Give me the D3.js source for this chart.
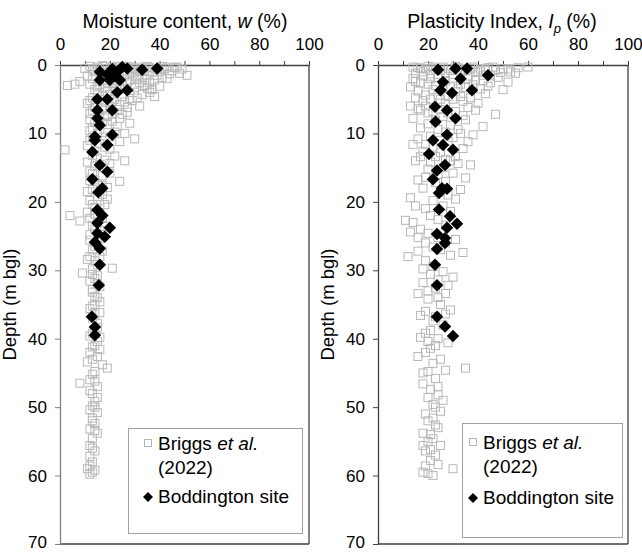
<!DOCTYPE html>
<html>
<head>
<meta charset="utf-8">
<script src="https://cdn.jsdelivr.net/npm/d3@7"></script>
<style>
  body { margin: 0; background: #fff; }
  text { font-family: "Liberation Sans", Arial, sans-serif; fill: #000; }
</style>
</head>
<body>
<div id="chart"></div>
<script>
// ---- data: [value, depth (m bgl)] ----
const briggsW = [
  [12,0.2],[15,0.3],[18,0.2],[21,0.4],[24,0.3],[27,0.2],[30,0.5],[33,0.3],[36,0.4],[39,0.6],
  [42,0.5],[45,0.8],[48,1.2],[51,1.5],[44,1.3],[41,1.8],[38,2.2],[35,1.5],[32,1.0],[29,1.2],
  [26,1.6],[23,1.1],[20,0.9],[17,1.4],[14,1.0],[11,1.6],[8,2.4],[3,3.0],[6,2.8],[12,2.8],
  [15,3.2],[19,2.6],[25,2.9],[30,3.3],[34,3.0],[37,3.6],[40,3.1],[38,4.6],[33,4.3],[28,4.0],
  [22,3.8],[17,4.4],[13,4.8],[11,5.6],[14,6.2],[18,5.5],[24,5.8],[29,5.2],[32,6.0],[27,6.9],
  [21,7.2],[16,7.6],[12,8.0],[13,9.2],[19,8.7],[23,9.0],[28,8.5],[15,10.0],[20,10.5],[30,10.8],
  [2,12.4],[11,11.8],[14,12.6],[18,12.0],[22,13.3],[26,14.0],[16,14.5],[12,15.5],[20,15.8],[14,16.8],
  [17,17.6],[24,17.0],[11,18.5],[15,19.2],[19,19.6],[13,20.4],[16,21.0],[4,22.0],[8,22.8],[12,22.4],
  [15,23.0],[18,23.6],[12,24.8],[16,25.4],[14,26.5],[17,27.2],[12,28.0],[14,28.6],[9,30.4],[13,29.8],
  [21,29.7],[15,30.8],[12,31.6],[16,32.4],[13,33.2],[15,34.0],[14,35.0],[12,35.6],[16,36.2],[13,37.0],
  [15,37.8],[14,38.8],[12,39.6],[15,40.4],[13,41.2],[12,42.0],[15,42.6],[11,43.4],[19,44.3],[14,44.8],
  [8,46.5],[12,46.0],[15,47.0],[13,48.0],[14,49.2],[12,50.4],[15,50.8],[13,51.6],[14,52.4],[12,53.2],
  [15,53.8],[13,54.6],[12,55.6],[14,56.4],[12,57.2],[13,58.0],[11,59.0],[13,59.5],[12,59.8],
  [10,0.5],[13,0.6],[16,0.8],[19,0.5],[22,0.7],[25,0.9],[28,0.7],[31,0.9],[34,0.8],[37,1.0],
  [40,0.9],[43,0.3],[46,0.4],[49,0.6],[20,1.8],[24,2.0],[28,2.2],[31,1.9],[34,2.1],[36,2.6],
  [13,2.0],[17,2.3],[21,2.7],[27,2.5],[32,2.6],[14,3.6],[18,3.4],[23,3.2],[26,3.5],[36,4.0],
  [31,4.8],[25,4.6],[20,4.3],[15,4.1],[12,5.2],[16,5.0],[21,5.3],[26,5.4],[13,6.6],[17,6.4],
  [20,6.0],[23,6.5],[27,6.2],[12,7.1],[15,6.9],[19,7.4],[24,7.8],[14,8.3],[17,8.4],[21,8.2],
  [12,9.6],[16,9.4],[22,9.8],[26,10.0],[13,10.6],[18,11.0],[24,11.2],[12,11.0],[16,11.5],[20,12.3],
  [13,13.2],[15,13.6],[18,13.9],[11,14.2],[14,14.8],[20,14.4],[13,15.9],[17,16.2],[12,16.9],[15,17.4],
  [19,17.9],[13,18.2],[17,18.9],[12,19.8],[14,20.8],[18,20.4],[11,21.5],[14,21.8],[17,22.3],[13,23.4],
  [16,24.2],[14,24.0],[12,25.6],[15,26.0],[13,27.0],[16,28.0],[11,28.4],[15,29.2],[13,30.6],[14,31.2],
  [15,32.0],[13,32.8],[14,33.8],[16,34.6],[13,35.2],[14,36.4],[15,38.4],[13,39.2],[16,39.8],[14,41.0],
  [16,41.6],[13,43.0],[17,43.8],[13,45.2],[14,46.2],[12,47.6],[15,48.6],[13,49.8],[14,50.0],[13,52.0],
  [14,53.4],[13,56.0],[12,58.6],[14,59.2],
  [17,0.1],[23,0.2],[29,0.3],[35,0.2],[41,0.2],[47,0.3],[33,1.6],[27,1.4],[22,2.3],[39,1.5],
  [43,2.0],[30,2.8],[24,3.4],[35,3.4],[19,3.9],[16,2.9],[28,4.9],[22,5.0],[18,6.6],[25,7.2]
];
const boddW = [
  [39,0.5],[33,0.7],[27,0.5],[25,0.3],[23,1.0],[21,0.6],[16,1.0],[19,1.4],[16,2.2],[20,2.2],
  [24,2.2],[22,1.6],[27,3.7],[23,4.0],[15,5.0],[19,5.0],[21,6.6],[15,6.6],[16,8.8],[15,7.8],
  [21,10.2],[14,10.5],[14,11.0],[19,11.7],[13,12.7],[16,14.6],[19,15.6],[13,16.7],[17,18.0],[15.4,18.6],
  [15,21.2],[17,22.0],[15,23.1],[20,23.8],[15,24.6],[18,25.1],[14,25.9],[16,26.8],[16,29.2],[15.6,32.2],
  [12.8,36.8],[14,38.3],[14,39.5]
];
const briggsIp = [
  [14,0.3],[17,0.5],[20,0.2],[23,0.6],[26,0.3],[29,0.8],[32,0.4],[35,0.7],[38,0.3],[41,0.6],
  [44,0.4],[47,0.8],[50,0.5],[53,1.0],[56,0.4],[60,0.3],[52,2.5],[48,1.8],[45,2.6],[42,1.5],
  [39,2.2],[36,1.6],[33,2.8],[30,1.9],[27,2.3],[24,1.4],[21,2.0],[18,1.6],[15,2.4],[13,3.2],
  [16,3.8],[19,4.4],[22,3.6],[25,5.0],[28,4.6],[31,3.9],[34,5.3],[37,4.8],[40,5.6],[43,4.2],
  [47,7.2],[14,7.8],[17,6.6],[20,7.0],[23,8.2],[26,7.5],[29,8.8],[32,9.4],[35,8.0],[38,10.2],
  [42,9.0],[16,10.8],[19,11.6],[22,12.0],[25,12.8],[28,11.2],[31,13.4],[34,12.2],[37,14.6],[15,14.0],
  [20,15.2],[24,16.0],[27,17.0],[30,15.8],[33,18.2],[18,18.0],[13,19.4],[22,19.8],[26,20.6],[29,21.4],
  [35,16.5],[11,22.7],[14,23.0],[17,24.0],[20,24.6],[24,25.2],[27,26.0],[31,25.5],[34,27.4],[16,27.2],
  [12,28.0],[19,28.6],[22,29.4],[26,30.2],[30,31.0],[18,31.8],[23,32.6],[27,33.4],[20,34.2],[25,35.0],
  [29,35.8],[17,36.6],[22,37.4],[26,38.0],[19,39.2],[24,40.0],[28,40.6],[21,41.4],[16,42.6],[25,43.0],
  [35,44.3],[20,44.8],[23,45.8],[18,46.6],[21,47.4],[24,48.2],[26,49.0],[22,49.6],[25,50.6],[20,52.0],
  [23,52.6],[18,53.8],[22,54.6],[20,55.0],[25,55.6],[19,56.4],[23,57.0],[21,57.8],[30,59.0],[18,59.5],
  [20,59.7],[22,60.0],
  [16,0.4],[19,0.6],[22,0.3],[25,0.8],[28,0.5],[31,0.2],[34,0.9],[37,0.5],[40,0.9],[43,0.7],
  [46,0.3],[49,1.1],[52,0.6],[55,1.2],[15,1.2],[18,1.0],[21,1.3],[24,1.8],[27,1.2],[30,1.4],
  [33,1.2],[36,2.0],[39,1.1],[42,2.3],[45,1.6],[14,2.0],[17,2.6],[20,2.8],[23,3.0],[26,2.9],
  [29,3.2],[32,3.4],[35,3.3],[38,2.9],[41,3.5],[44,3.1],[50,3.6],[15,4.8],[18,5.2],[21,5.0],
  [24,4.4],[27,5.6],[30,5.0],[33,4.6],[36,6.2],[39,6.6],[13,6.0],[16,6.4],[19,6.0],[22,6.8],
  [25,6.5],[28,7.0],[31,6.8],[34,7.4],[20,8.6],[17,9.2],[24,9.4],[27,9.8],[30,10.6],[33,10.0],
  [36,11.2],[14,11.6],[21,10.4],[25,11.0],[18,12.6],[23,13.4],[27,13.8],[32,14.4],[17,13.4],[21,14.2],
  [26,15.0],[29,14.0],[19,16.4],[23,17.2],[16,16.8],[25,18.6],[28,19.0],[31,19.6],[15,20.6],[19,21.0],
  [21,22.0],[24,22.6],[27,23.4],[13,24.4],[16,25.2],[19,26.0],[22,26.6],[25,27.0],[29,27.8],[18,29.8],
  [21,30.6],[24,31.4],[28,32.2],[16,33.4],[20,33.0],[24,34.0],[27,36.4],[19,36.0],[23,36.8],[21,38.8],
  [17,39.8],[20,40.4],[23,41.0],[19,42.0],[22,43.6],[27,44.6],[18,45.0],[24,47.0],[20,48.6],[23,50.0],
  [19,51.0],[22,51.6],[24,53.0],[21,54.0],[18,55.6],[21,56.2],[24,58.4],[19,58.6]
];
const boddIp = [
  [24,0.7],[31,0.5],[35.6,0.5],[44,1.5],[26,2.5],[33,2.0],[37.6,3.7],[29.6,4.1],[25,3.7],[22.8,6.1],
  [27.6,6.6],[23,8.3],[31,7.8],[27.6,10.2],[22,11.0],[26,11.7],[30,12.4],[20.4,13.0],[26.8,14.6],[23.6,15.4],
  [22,16.7],[25.6,18.0],[27.6,18.1],[24.4,18.7],[24.4,21.1],[28.8,22.1],[31.6,23.2],[27.6,23.8],[23.6,24.7],[26.8,25.3],
  [26.8,26.0],[23.6,26.9],[22.8,29.2],[23.6,32.2],[23.6,36.8],[26.8,38.2],[30,39.6]
];
const xTicks = [0, 10, 20, 30, 40, 50, 60, 70, 80, 90, 100];
const yTicks = [0, 10, 20, 30, 40, 50, 60, 70];
const legendLabels = ["Briggs", "et al.", "(2022)", "Boddington site"];

const width = 642, height = 552;
const svg = d3.select("#chart").append("svg")
  .attr("width", width).attr("height", height);

const yTop = 65, yBottom = 544;

function drawPanel(p) {
  const x = d3.scaleLinear().domain([0, 100]).range([p.left, p.right]);
  const y = d3.scaleLinear().domain([0, 70]).range([yTop, yBottom]);
  const g = svg.append("g");

  // right + bottom frame
  g.append("line").attr("x1", p.right).attr("x2", p.right).attr("y1", yTop).attr("y2", yBottom)
    .attr("stroke", "#404040").attr("stroke-width", 1.3);
  g.append("line").attr("x1", p.left).attr("x2", p.right).attr("y1", yBottom).attr("y2", yBottom)
    .attr("stroke", "#404040").attr("stroke-width", 1.3);

  const xAxis = g.append("g").attr("transform", `translate(0,${yTop})`)
    .call(d3.axisTop(x).tickValues(xTicks).tickSize(4).tickSizeOuter(0)
      .tickFormat(d => d % 20 === 0 ? d : ""));
  xAxis.select(".domain").attr("stroke", "#404040").attr("stroke-width", 1.3);
  xAxis.selectAll(".tick line").attr("stroke", "#404040");
  xAxis.selectAll("text").attr("font-size", 17).attr("dy", "-8");

  const yAxis = g.append("g").attr("transform", `translate(${p.left},0)`)
    .call(d3.axisLeft(y).tickValues(yTicks).tickSize(5).tickSizeOuter(0));
  yAxis.select(".domain").attr("stroke", p.leftColor).attr("stroke-width", 1.3);
  yAxis.selectAll(".tick line").attr("stroke", p.leftColor);
  yAxis.selectAll("text").attr("font-size", 17).attr("x", -13)
    .attr("dy", d => d === 70 ? "0.2em" : "0.32em");

  // titles
  const t = g.append("text").attr("x", p.titleX).attr("y", 28)
    .attr("text-anchor", "middle").attr("font-size", 19.5);
  p.title(t);

  g.append("text")
    .attr("transform", `translate(${p.left - 44},${(yTop + yBottom) / 2}) rotate(-90)`)
    .attr("text-anchor", "middle").attr("font-size", 18.5)
    .text("Depth (m bgl)");

  // Briggs et al. squares
  g.append("g").selectAll("rect").data(p.briggs).join("rect")
    .attr("x", d => x(d[0]) - 4).attr("y", d => y(d[1]) - 4)
    .attr("width", 8).attr("height", 8)
    .attr("fill", "none").attr("stroke", "#b8b8b8").attr("stroke-width", 1);

  // Boddington diamonds
  const diamond = d3.symbol(d3.symbolSquare, 78);
  g.append("g").selectAll("path").data(p.bodd).join("path")
    .attr("d", diamond)
    .attr("transform", d => `translate(${x(d[0])},${y(d[1])}) rotate(45)`)
    .attr("fill", "#000");

  // legend
  const L = p.leg;
  const lg = g.append("g").attr("transform", `translate(${L.x},${L.y})`);
  lg.append("rect").attr("width", L.w).attr("height", L.h)
    .attr("fill", "#fff").attr("stroke", "#a0a0a0").attr("stroke-width", 1);
  lg.append("rect").attr("x", L.mx - 3.5).attr("y", L.r1 - 3.5).attr("width", 7).attr("height", 7)
    .attr("fill", "none").attr("stroke", "#b4b4b4");
  const l1 = lg.append("text").attr("x", L.tx).attr("y", L.r1 + 7).attr("font-size", 19);
  l1.append("tspan").text(legendLabels[0] + " ");
  l1.append("tspan").attr("font-style", "italic").text(legendLabels[1]);
  lg.append("text").attr("x", L.tx).attr("y", L.r1 + 31).attr("font-size", 19).text(legendLabels[2]);
  lg.append("path").attr("d", d3.symbol(d3.symbolSquare, 50))
    .attr("transform", `translate(${L.mx},${L.r2}) rotate(45)`).attr("fill", "#000");
  lg.append("text").attr("x", L.tx).attr("y", L.r2 + 6).attr("font-size", 19).text(legendLabels[3]);
}

drawPanel({
  left: 60, right: 309, titleX: 185, leftColor: "#808080",
  briggs: briggsW, bodd: boddW,
  leg: { x: 128.5, y: 428.5, w: 174, h: 105, mx: 19.5, tx: 29.5, r1: 14.5, r2: 68.5 },
  title: t => {
    t.append("tspan").text("Moisture content, ");
    t.append("tspan").attr("font-style", "italic").text("w");
    t.append("tspan").text(" (%)");
  }
});

drawPanel({
  left: 378, right: 628, titleX: 502, leftColor: "#404040",
  briggs: briggsIp, bodd: boddIp,
  leg: { x: 462.5, y: 423.5, w: 160, h: 114, mx: 10.5, tx: 20.5, r1: 18.5, r2: 74.5 },
  title: t => {
    t.append("tspan").text("Plasticity Index, ");
    t.append("tspan").attr("font-style", "italic").text("I");
    t.append("tspan").attr("font-style", "italic").attr("font-size", 13).attr("dy", 5).text("p");
    t.append("tspan").attr("dy", -5).text(" (%)");
  }
});
</script>
</body>
</html>
